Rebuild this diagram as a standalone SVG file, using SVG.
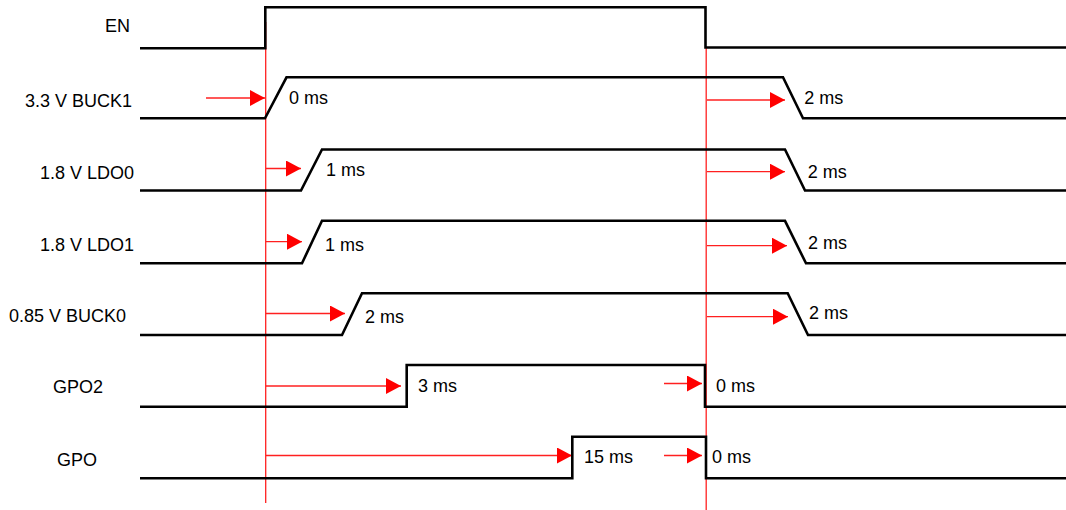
<svg xmlns="http://www.w3.org/2000/svg" width="1066" height="510" viewBox="0 0 1066 510">
<style>
.sig{fill:none;stroke:#000;stroke-width:2.6;stroke-linejoin:miter}
.lbl{font-family:"Liberation Sans",Arial,sans-serif;font-size:18px;fill:#000}
.ref{stroke:#ff2020;stroke-width:1.3;fill:none}
.arr{stroke:#ff2020;stroke-width:1.3;fill:none;marker-end:url(#ah)}
</style>
<defs>
<marker id="ah" markerUnits="userSpaceOnUse" markerWidth="15" markerHeight="16" refX="15" refY="8" orient="auto" viewBox="0 0 15 16">
<path d="M0,0 L15,8 L0,16 z" fill="#ff0000"/>
</marker>
</defs>
<rect width="1066" height="510" fill="#fff"/>
<g id="connectors">
<line class="ref" x1="265.7" y1="22" x2="265.7" y2="503"/>
<line class="ref" x1="706.2" y1="48" x2="706.2" y2="510"/>
<line class="arr" x1="206" y1="98" x2="265" y2="98"/>
<line class="arr" x1="266" y1="168.5" x2="301" y2="168.5"/>
<line class="arr" x1="266" y1="241.7" x2="302" y2="241.7"/>
<line class="arr" x1="266" y1="313.5" x2="345" y2="313.5"/>
<line class="arr" x1="266" y1="386" x2="401" y2="386"/>
<line class="arr" x1="266" y1="455.5" x2="572" y2="455.5"/>
<line class="arr" x1="707" y1="100" x2="785" y2="100"/>
<line class="arr" x1="707" y1="171.7" x2="785" y2="171.7"/>
<line class="arr" x1="707" y1="245.7" x2="787" y2="245.7"/>
<line class="arr" x1="707" y1="316.7" x2="788" y2="316.7"/>
<line class="arr" x1="664" y1="383.5" x2="702" y2="383.5"/>
<line class="arr" x1="664" y1="455.5" x2="702" y2="455.5"/>
</g>
<g id="EN">
<text class="lbl" x="105" y="32">EN</text>
<polyline class="sig" points="140,48.3 265.3,48.3 265.3,7.3 705.5,7.3 705.5,47.5 1066,47.5"/>
</g>
<g id="BUCK1">
<text class="lbl" x="25" y="107.3">3.3 V BUCK1</text>
<polyline class="sig" points="140,118.3 265,118.3 286.5,77.3 783,77.3 803,118.3 1066,118.3"/>
<text class="lbl" x="289" y="104.3">0 ms</text>
<text class="lbl" x="804.3" y="104.3">2 ms</text>
</g>
<g id="LDO0">
<text class="lbl" x="40" y="179.3">1.8 V LDO0</text>
<polyline class="sig" points="140,190.5 301,190.5 322,149.5 785,149.5 805,190.5 1066,190.5"/>
<text class="lbl" x="326" y="176.3">1 ms</text>
<text class="lbl" x="807.7" y="178.3">2 ms</text>
</g>
<g id="LDO1">
<text class="lbl" x="40" y="251">1.8 V LDO1</text>
<polyline class="sig" points="140,263.3 302,263.3 322,220.8 785,220.8 806,263.3 1066,263.3"/>
<text class="lbl" x="325" y="250.7">1 ms</text>
<text class="lbl" x="808" y="249">2 ms</text>
</g>
<g id="BUCK0">
<text class="lbl" x="9" y="321.7">0.85 V BUCK0</text>
<polyline class="sig" points="140,335 342,335 362,293.3 787.7,293.3 808,335 1066,335"/>
<text class="lbl" x="365" y="322.7">2 ms</text>
<text class="lbl" x="809" y="319">2 ms</text>
</g>
<g id="GPO2">
<text class="lbl" x="53" y="393.3">GPO2</text>
<polyline class="sig" points="140,406.7 406.7,406.7 406.7,365 705,365 705,406.7 1066,406.7"/>
<text class="lbl" x="418" y="392.3">3 ms</text>
<text class="lbl" x="716" y="391.7">0 ms</text>
</g>
<g id="GPO">
<text class="lbl" x="57" y="466">GPO</text>
<polyline class="sig" points="140,478.3 572.3,478.3 572.3,436.7 706,436.7 706,478.3 1066,478.3"/>
<text class="lbl" x="584" y="463.3">15 ms</text>
<text class="lbl" x="712" y="463.3">0 ms</text>
</g>
</svg>
